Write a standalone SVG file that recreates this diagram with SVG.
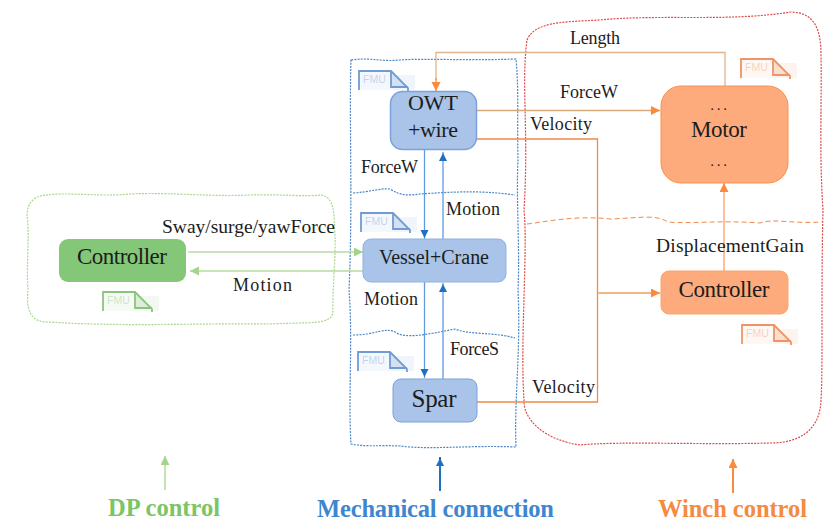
<svg xmlns="http://www.w3.org/2000/svg" width="825" height="523" viewBox="0 0 825 523">
<defs>
<marker id="ao" markerWidth="12" markerHeight="12" refX="9" refY="4.5" orient="auto" markerUnits="userSpaceOnUse"><path d="M0 0L9 4.5L0 9z" fill="#fb8a3c"/></marker>
<marker id="ab" markerWidth="12" markerHeight="12" refX="9" refY="4" orient="auto" markerUnits="userSpaceOnUse"><path d="M0 0L8 4L0 8z" fill="#1f6fc4"/></marker>
<marker id="ag" markerWidth="12" markerHeight="12" refX="9" refY="4.5" orient="auto" markerUnits="userSpaceOnUse"><path d="M0 0L9 4.5L0 9z" fill="#a5d58a"/></marker>
<g id="fmu"><rect x="33" y="5" width="24" height="15" fill="currentColor" fill-opacity=".1"/><rect x="1" y="1" width="32" height="19" fill="currentColor" fill-opacity=".08"/><path d="M33 1L50 18H33z" fill="currentColor" fill-opacity=".22"/><path d="M1 20V1H33L50 18V21" fill="none" stroke="currentColor" stroke-width="1.800"/><path d="M33 1V17H50" fill="none" stroke="currentColor" stroke-width="1.800"/><text class="f" x="5" y="13">FMU</text></g>
</defs>
<style>
text{font-family:"Liberation Serif","DejaVu Serif",serif;fill:#1c1c1c}
.f{font-family:"Liberation Sans",sans-serif;font-size:10.500px;fill:currentColor;fill-opacity:.4}
.l{font-size:18px}
.w{font-size:19.500px}
.n{font-size:20px}
.m{font-size:23px}
.d{font-size:15px;letter-spacing:2.800px}
.nb{font-size:22px}
.s{font-size:25px}
.t{font-size:24.500px;font-weight:bold}
.c{fill:none;stroke-width:1.300}
.box{fill:none;stroke-width:1.200;stroke-dasharray:2 1.200}
</style>
<g id="regions">
<path class="box" stroke="#a9d78c" d="M46 195C70 192 100 197 130 194C170 192 210 197 250 195C285 194 305 197 322 195C335 198 334 215 335 235C336 255 332 295 333 313C330 325 310 322 270 324C200 323 120 327 50 322C30 323 26 310 28 290C26 265 30 235 27 215C27 203 34 196 46 195Z"/>
<path class="box" stroke="#4a86c8" stroke-width="1" d="M351 60C370 57 380 62 400 60C430 58 460 61 516 59C519 90 517 120 518 160C516 200 520 250 518 290C521 350 514 400 516 447C470 445 430 450 400 446C380 445 365 447 351 444C348 400 353 340 349 290C353 200 349 120 351 60Z"/>
<path class="box" stroke="#4a86c8" stroke-width="1" d="M353 193C370 192 380 188 390 189C400 195 405 196 420 194C450 192 480 190 515 195"/>
<path class="box" stroke="#4a86c8" stroke-width="1" d="M353 335C375 335 385 327 395 332C405 339 425 335 455 329C470 335 495 332 515 338"/>
<path class="box" stroke="#dd4b4b" d="M527 40C535 22 560 22 600 20C660 14 730 22 790 12C815 12 821 30 821 55C822 100 819 150 823 210C821 290 823 370 821 400C820 430 800 443 770 443C700 445 620 441 580 445C545 440 523 420 524 400C520 340 528 250 524 210C529 130 521 85 527 40Z"/>
<path fill="none" stroke="#f08a4a" stroke-dasharray="5 3" stroke-width="1" d="M527 224C545 222 575 215 610 219C640 218 655 214 668 222C690 224 720 220 760 223C775 218 790 224 822 222"/>
</g>
<g id="connectors">
<path class="c" stroke="#dfb48e" d="M725 86V52.500H436V80"/>
<path d="M436 78V91" stroke="#fb8a3c" stroke-width="1.300" marker-end="url(#ao)"/>
<path class="c" stroke="#d9a87a" marker-end="url(#ao)" d="M477 110.500H660"/>
<path class="c" stroke="#f08a4a" d="M477 139H597.500V402H477"/>
<path class="c" stroke="#e8a25f" stroke-width="1.800" marker-end="url(#ao)" d="M597 293H660"/>
<path class="c" stroke="#fb9f66" marker-end="url(#ao)" d="M724 271V183"/>
<path class="c" stroke="#5f9be0" marker-end="url(#ab)" d="M424.500 149V239"/>
<path class="c" stroke="#5f9be0" marker-end="url(#ab)" d="M443 239V152"/>
<path class="c" stroke="#5f9be0" marker-end="url(#ab)" d="M424.500 282V378"/>
<path class="c" stroke="#5f9be0" marker-end="url(#ab)" d="M443 379V283"/>
<path class="c" stroke="#b5dca0" marker-end="url(#ag)" d="M188 252H363"/>
<path class="c" stroke="#b5dca0" marker-end="url(#ag)" d="M363 271H190"/>
<path class="c" stroke="#a5d58a" marker-end="url(#ag)" d="M165 490V456"/>
<path stroke="#1f6fc4" stroke-width="2" marker-end="url(#ab)" d="M440 491V457"/>
<path stroke="#fb8a3c" stroke-width="2" marker-end="url(#ao)" d="M733 493V459"/>
</g>
<g id="owt"><rect x="390.500" y="91.500" width="86" height="58" rx="12" fill="#a9c4e8" stroke="#7ba3da" stroke-width="1.500"/><text class="nb" x="433" y="110" text-anchor="middle" textLength="50">OWT</text><text class="nb" x="433" y="137" text-anchor="middle" textLength="50">+wire</text></g>
<g id="vessel"><rect x="363" y="239" width="143" height="43" rx="8" fill="#a9c4e8" stroke="#90b2df"/><text class="n" x="434" y="264" text-anchor="middle" textLength="110">Vessel+Crane</text></g>
<g id="spar"><rect x="393" y="379" width="84" height="43" rx="8" fill="#a9c4e8" stroke="#7ba3da"/><text class="s" x="434" y="407" text-anchor="middle" textLength="45">Spar</text></g>
<g id="motor"><rect x="661" y="86" width="127" height="97" rx="20" fill="#fdab7c" stroke="#f9924f"/><text class="d" x="720" y="110" text-anchor="middle">...</text><text class="m" x="719" y="137" text-anchor="middle" textLength="56">Motor</text><text class="d" x="720" y="166" text-anchor="middle">...</text></g>
<g id="winch-controller"><rect x="661" y="271" width="127" height="43" rx="8" fill="#fdab7c" stroke="#f9a468"/><text class="m" x="724" y="297" text-anchor="middle" textLength="91">Controller</text></g>
<g id="dp-controller"><rect x="59" y="239" width="127" height="43" rx="9" fill="#85c778"/><text class="m" x="122" y="264" text-anchor="middle" textLength="90">Controller</text></g>
<g id="fmu-icons">
<use href="#fmu" x="358" y="70" color="#6f9bd6"/>
<use href="#fmu" x="360" y="212" color="#6f9bd6"/>
<use href="#fmu" x="357" y="351" color="#6f9bd6"/>
<use href="#fmu" x="740" y="58" color="#ee9466"/>
<use href="#fmu" x="741" y="324" color="#ee9466"/>
<use href="#fmu" x="102" y="291" color="#8cc47f"/>
</g>
<g id="labels">
<text class="l" x="570" y="44" textLength="50">Length</text>
<text class="l" x="560" y="98" textLength="58">ForceW</text>
<text class="l" x="530" y="130" textLength="62">Velocity</text>
<text class="l" x="361" y="173" textLength="57">ForceW</text>
<text class="l" x="446" y="215" textLength="54">Motion</text>
<text class="w" x="162" y="233" textLength="173">Sway/surge/yawForce</text>
<text class="l" x="233" y="291" textLength="59">Motion</text>
<text class="l" x="364" y="305" textLength="54">Motion</text>
<text class="l" x="450" y="355" textLength="49">ForceS</text>
<text class="l" x="532" y="393" textLength="63">Velocity</text>
<text class="w" x="656" y="252" textLength="148">DisplacementGain</text>
<text class="t" x="108" y="516" textLength="112" style="fill:#7cc565">DP control</text>
<text class="t" x="317" y="517" textLength="237" style="fill:#3f86cf">Mechanical connection</text>
<text class="t" x="658" y="517" textLength="149" style="fill:#f58a42">Winch control</text>
</g>
</svg>
